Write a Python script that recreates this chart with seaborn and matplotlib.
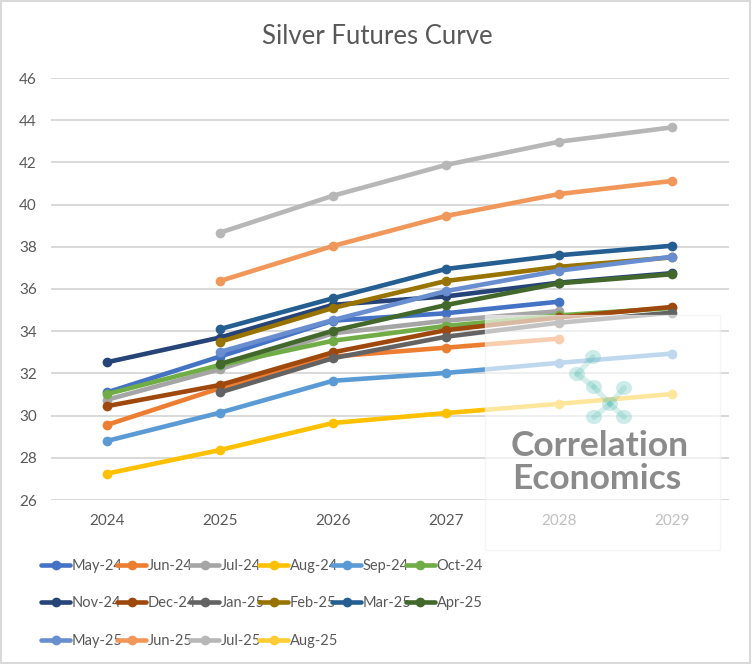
import numpy as np
import pandas as pd
import matplotlib
matplotlib.use("Agg")
import matplotlib.pyplot as plt
import seaborn as sns
from matplotlib.lines import Line2D
from matplotlib.patches import Rectangle, Circle

# ============ DataSet ============
nan = np.nan
years = [2024, 2025, 2026, 2027, 2028, 2029]

may_24 = [31.10, 32.80, 34.50, 34.85, 35.40, nan]
jun_24 = [29.56, 31.30, 32.80, 33.22, 33.65, nan]
jul_24 = [30.75, 32.20, 33.90, 34.50, 34.95, nan]
aug_24 = [27.25, 28.37, 29.65, 30.12, 30.56, 31.02]
sep_24 = [28.80, 30.14, 31.65, 32.02, 32.50, 32.94]
oct_24 = [31.02, 32.40, 33.55, 34.25, 34.75, 35.10]
nov_24 = [32.53, 33.70, 35.25, 35.65, 36.30, 36.75]
dec_24 = [30.45, 31.45, 33.00, 34.05, 34.65, 35.15]
jan_25 = [nan, 31.10, 32.72, 33.74, 34.40, 34.88]
feb_25 = [nan, 33.50, 35.10, 36.38, 37.05, 37.50]
mar_25 = [nan, 34.10, 35.56, 36.95, 37.60, 38.05]
apr_25 = [nan, 32.45, 34.02, 35.24, 36.27, 36.70]
may_25 = [nan, 33.02, 34.53, 35.90, 36.87, 37.53]
jun_25 = [nan, 36.38, 38.04, 39.46, 40.50, 41.12]
jul_25 = [nan, 38.67, 40.42, 41.88, 42.98, 43.66]
aug_25 = [nan, nan, nan, nan, nan, nan]

series = {
    "May-24": may_24, "Jun-24": jun_24, "Jul-24": jul_24, "Aug-24": aug_24,
    "Sep-24": sep_24, "Oct-24": oct_24, "Nov-24": nov_24, "Dec-24": dec_24,
    "Jan-25": jan_25, "Feb-25": feb_25, "Mar-25": mar_25, "Apr-25": apr_25,
    "May-25": may_25, "Jun-25": jun_25, "Jul-25": jul_25, "Aug-25": aug_25,
}

# Excel office palette
colors = ["#4472C4", "#ED7D31", "#A5A5A5", "#FFC000", "#5B9BD5", "#70AD47",
          "#264478", "#9E480E", "#636363", "#997300", "#255E91", "#43682B",
          "#698ED0", "#F1975A", "#B7B7B7", "#FFCD33"]
palette = dict(zip(series.keys(), colors))

rows = []
for name, vals in series.items():
    for yr, v in zip(years, vals):
        if not np.isnan(v):
            rows.append({"series": name, "year": yr, "price": v})
df = pd.DataFrame(rows)

# ============ Style ============
sns.set_theme(style="whitegrid")
plt.rcParams['font.family'] = ['Lato', 'DejaVu Sans']
text_col = "#595959"
grid_col = "#D9D9D9"

fig = plt.figure(figsize=(7.52, 6.64), dpi=100)
ax = fig.add_axes([50.5 / 752, 1 - 500 / 664, 678 / 752, 422 / 664])

present = [n for n in series if n in set(df["series"])]
sns.lineplot(data=df, x="year", y="price", hue="series", hue_order=present,
             palette=palette, marker="o", markersize=7, markeredgewidth=0,
             linewidth=3.3, estimator=None, sort=True, legend=False, ax=ax)

ax.set_xlim(2023.5, 2029.5)
ax.set_ylim(26, 46)
ax.set_yticks(range(26, 47, 2))
ax.set_xticks(years)
ax.set_xticklabels([str(y) for y in years])
ax.set_xlabel("")
ax.set_ylabel("")
ax.grid(axis="y", color=grid_col, linewidth=1.4)
ax.grid(axis="x", visible=False)
for s in ax.spines.values():
    s.set_visible(False)
ax.tick_params(axis="both", colors=text_col, labelsize=11, length=0, pad=10)
ax.set_facecolor("white")

fig.text(377 / 752, 1 - 37 / 664, "Silver Futures Curve", ha="center", va="center",
         fontsize=18.5, color=text_col)

# ============ Legend (row-wise order, 6 per row) ============
names = list(series.keys())
ncol = 6
order = [r * ncol + c for c in range(ncol) for r in range(3) if r * ncol + c < len(names)]
handles = [Line2D([0], [0], color=palette[names[i]], lw=3.3, marker="o", markersize=7,
                  markeredgewidth=0) for i in order]
fig.legend(handles, [names[i] for i in order], ncol=ncol, loc="upper left",
           bbox_to_anchor=(28 / 752, 1 - 546 / 664), frameon=False,
           fontsize=10.5, labelcolor=text_col, handlelength=2.0, handletextpad=0.1,
           columnspacing=-0.4, labelspacing=1.6)

# ============ Watermark ============
fig.add_artist(Rectangle((485 / 752, 1 - 550 / 664), 235 / 752, 235 / 664,
                         transform=fig.transFigure, facecolor="white", alpha=0.62,
                         edgecolor="#F0F0F0", linewidth=1, zorder=10))
nodes = [(593, 357), (577, 374), (594, 387), (624, 388), (610, 404), (594, 417), (624, 417)]
links = [(0, 1), (1, 2), (2, 4), (3, 4), (4, 5), (4, 6)]
for a, b in links:
    fig.add_artist(Line2D([nodes[a][0] / 752, nodes[b][0] / 752],
                          [1 - nodes[a][1] / 664, 1 - nodes[b][1] / 664],
                          transform=fig.transFigure, color="#5CC0B5", alpha=0.25,
                          lw=4, zorder=11))
for x, y in nodes:
    fig.add_artist(Circle((x / 752, 1 - y / 664), 8 / 752, transform=fig.transFigure,
                          facecolor="#5CC0B5", alpha=0.3, edgecolor="none", zorder=11))
fig.text(600 / 752, 1 - 446 / 664, "Correlation", ha="center", va="center",
         fontsize=25.5, fontweight="bold", color="#7F7F7F", alpha=0.9, zorder=12)
fig.text(597 / 752, 1 - 479 / 664, "Economics", ha="center", va="center",
         fontsize=25.5, fontweight="bold", color="#7F7F7F", alpha=0.9, zorder=12)

# outer chart border
fig.add_artist(Rectangle((0.001, 0.001), 0.997, 0.997, transform=fig.transFigure,
                         fill=False, edgecolor=grid_col, linewidth=1.5, zorder=20))

fig.savefig("out.png", dpi=100, facecolor="white")
